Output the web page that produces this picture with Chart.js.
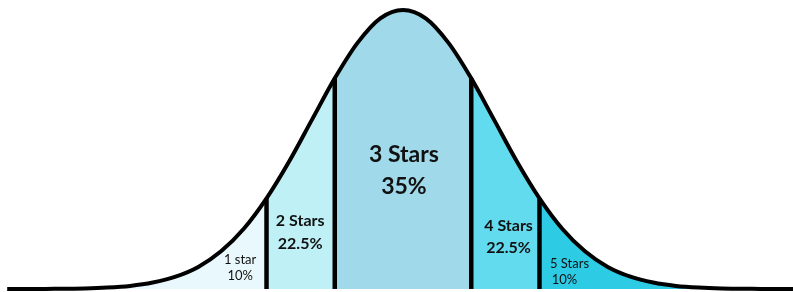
<!DOCTYPE html>
<html>
<head>
<meta charset="utf-8">
<script src="https://cdn.jsdelivr.net/npm/chart.js@4/dist/chart.umd.min.js"></script>
<style>
    html, body { margin: 0; padding: 0; background: #ffffff; }
    #wrap { width: 793px; height: 292px; position: relative; }
</style>
</head>
<body>
<div id="wrap"><canvas id="bellChart"></canvas></div>
<script>
/* Curve readings (x in standard deviations, height in % of peak) */

const curveX = [
    -4.35, -4, -3.75, -3.5, -3.25, -3, -2.75, -2.5, -2.25, -2, -1.75, -1.5, -1.25, -1, -0.75, -0.5, -0.25,
    0, 0.25, 0.5, 0.75, 1, 1.25, 1.5, 1.75, 2, 2.25, 2.5, 2.75, 3, 3.25, 3.5, 3.75, 4, 4.3
];

const curveY = [
    0, 0, 0.1, 0.2, 0.5, 1.1, 2.3, 4.4, 7.9, 13.5, 21.6, 32.5, 45.8, 60.7, 75.5, 88.2, 97,
    100, 97, 88.2, 75.5, 60.7, 45.8, 32.5, 21.6, 13.5, 7.9, 4.4, 2.3, 1.1, 0.5, 0.2, 0.1, 0, 0
];

/* Rating bands */

const starLabels = ["1 star", "2 Stars", "3 Stars", "4 Stars", "5 Stars"];
const starShares = [10, 22.5, 35, 22.5, 10];
const bandEdges = [-1.5, -0.75, 0.75, 1.5];

const bandColors = ["#e8f8fc", "#bff0f6", "#9fd9ea", "#62dbee", "#2ecbe5"];

/* label placement: x in sd, y in % of peak, line gap px, font */
const labelStyle = [
    { x: -1.79, y: 10.4, gap: 16, font: "13px Lato" },
    { x: -1.13, y: 24.4, gap: 23, font: "bold 16px Lato" },
    { x: 0.01,  y: 48,   gap: 32, font: "bold 23px Lato" },
    { x: 1.16,  y: 22.6, gap: 22, font: "bold 16px Lato" },
    { x: 1.83,  y: 9.0,  gap: 16, font: "13px Lato", dx2: -5 }
];

function bandIndex(x) {
    let i = 0;
    while (i < bandEdges.length && x >= bandEdges[i] - 1e-9) i++;
    return i;
}

const curvePoints = curveX.map((x, i) => ({ x: x, y: curveY[i] }));

const edgeLines = bandEdges.map(edge => {
    const h = curveY[curveX.indexOf(edge)];
    return {
        data: [{ x: edge, y: 0 }, { x: edge, y: h }],
        borderColor: "#000000",
        borderWidth: 4.5,
        pointRadius: 0,
        fill: false,
        order: 1
    };
});

/* Labels plugin */

const bandLabels = {
    id: "bandLabels",
    afterDatasetsDraw(chart) {
        const ctx = chart.ctx;
        const xs = chart.scales.x;
        const ys = chart.scales.y;
        ctx.save();
        ctx.fillStyle = "#111111";
        ctx.textAlign = "center";
        ctx.textBaseline = "middle";
        starLabels.forEach((label, i) => {
            const s = labelStyle[i];
            const px = xs.getPixelForValue(s.x);
            const py = ys.getPixelForValue(s.y);
            ctx.font = s.font;
            ctx.fillText(label, px, py);
            ctx.fillText(starShares[i] + "%", px + (s.dx2 || 0), py + s.gap);
        });
        ctx.restore();
    }
};

/* Create Chart */

const chart = new Chart(document.getElementById("bellChart"), {
    type: "line",
    data: {
        datasets: [
            {
                data: curvePoints,
                borderColor: "#000000",
                borderWidth: 4,
                pointRadius: 0,
                cubicInterpolationMode: "monotone",
                fill: false,
                order: 0
            },
            ...edgeLines,
            {
                data: curvePoints,
                borderWidth: 0,
                borderColor: "rgba(0,0,0,0)",
                pointRadius: 0,
                cubicInterpolationMode: "monotone",
                fill: "origin",
                backgroundColor: bandColors[0],
                segment: {
                    backgroundColor: c => bandColors[bandIndex(c.p0.parsed.x)]
                },
                order: 2
            }
        ]
    },
    options: {
        responsive: true,
        maintainAspectRatio: false,
        animation: false,
        layout: { padding: 0 },
        scales: {
            x: { type: "linear", display: false, min: -4.429, max: 4.286 },
            y: { display: false, min: -1.075, max: 103.58 }
        },
        plugins: {
            legend: { display: false },
            tooltip: { enabled: false }
        }
    },
    plugins: [bandLabels]
});
</script>
</body>
</html>
